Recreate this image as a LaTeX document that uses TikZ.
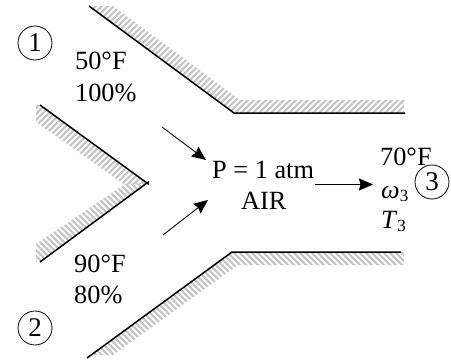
\documentclass[tikz,border=0pt]{standalone}
\usepackage{fontspec}
\setmainfont{Liberation Serif}
\usetikzlibrary{arrows.meta}
\tikzset{
  wall/.style={draw=black,line width=1.5pt,line join=miter},
  stripe/.style={draw=black!22,line width=2.4pt},
  flow/.style={draw=black,line width=0.9pt,-{Stealth[length=14pt,width=12pt,inset=1.5pt]}},
  lbl/.style={inner sep=0pt,anchor=base west,font=\fontsize{26.3}{26.3}\selectfont},
  num/.style={draw=black,circle,line width=0.8pt,minimum size=34pt,inner sep=0pt,font=\fontsize{27}{27}\selectfont}
}
\begin{document}
\begin{tikzpicture}[x=1pt,y=-1pt]
\useasboundingbox (0,0) rectangle (451,364);
% top wall hatching
\begin{scope}
\clip (89,6) -- (113,6) -- (240,100) -- (404,100) -- (404,113) -- (234,113) -- cycle;
\foreach \i in {0,6,...,600} {\draw[stripe] (-40+\i,130) -- (-40+\i+140,-10);}
\end{scope}
% middle upper
\begin{scope}
\clip (40,105) -- (147,183) -- (125,185) -- (36,122) -- (36,105) -- cycle;
\foreach \i in {0,6,...,300} {\draw[stripe] (-120+\i,210) -- (-120+\i+120,90);}
\end{scope}
% middle lower
\begin{scope}
\clip (40,262) -- (147,183) -- (125,184) -- (36,244) -- (36,262) -- cycle;
\foreach \i in {0,6,...,300} {\draw[stripe] (-120+\i,160) -- (-120+\i+120,280);}
\end{scope}
% bottom wall hatching
\begin{scope}
\clip (91,355) -- (113,355) -- (238,265) -- (404,265) -- (404,252) -- (232,252) -- cycle;
\foreach \i in {0,6,...,600} {\draw[stripe] (-30+\i,235) -- (-30+\i+130,365);}
\end{scope}
\coordinate (t1) at (89,6); \coordinate (t2) at (234,113); \coordinate (t3) at (405,113);
\coordinate (m1) at (40,105); \coordinate (m2) at (149,184.5);
\coordinate (m3) at (40,262); \coordinate (m4) at (149,181.5);
\coordinate (b1) at (87,358); \coordinate (b2) at (232,252); \coordinate (b3) at (401,252);
\draw[wall] (t1) -- (t2) -- (t3);
\draw[wall] (m1) -- (m2);
\draw[wall] (m3) -- (m4);
\draw[wall] (b1) -- (b2) -- (b3);
\coordinate (a1) at (162,127); \coordinate (a2) at (206,160);
\coordinate (c1) at (163,235); \coordinate (c2) at (208,200);
\coordinate (d1) at (315,184.5); \coordinate (d2) at (373,184.5);
\draw[flow] (a1) -- (a2);
\draw[flow] (c1) -- (c2);
\draw[flow] (d1) -- (d2);
\node[num] (n1) at (35,43) {1};
\node[num] (n2) at (35,328) {2};
\node[lbl] (l1) at (75,70) {50°F};
\node[lbl] (l2) at (75,101) {100\%};
\node[lbl] (l3) at (74,272) {90°F};
\node[lbl] (l4) at (74,303) {80\%};
\node[lbl] (p1) at (212,178.5) {P = 1 atm};
\node[lbl] (p2) at (241,209.5) {AIR};
\node[lbl] (r1) at (380,165) {70°F};
\node[lbl] (r2) at (381,198) {\textit{ω}\raisebox{-3pt}{\fontsize{17}{17}\selectfont 3}};
\begin{scope}
\clip (370,200) rectangle (420,231);
\node[lbl] (r3) at (381,228) {\textit{T}\raisebox{-3pt}{\fontsize{17}{17}\selectfont 3}};
\end{scope}
\node[num] (n3) at (432,182) {3};
\end{tikzpicture}
\end{document}
